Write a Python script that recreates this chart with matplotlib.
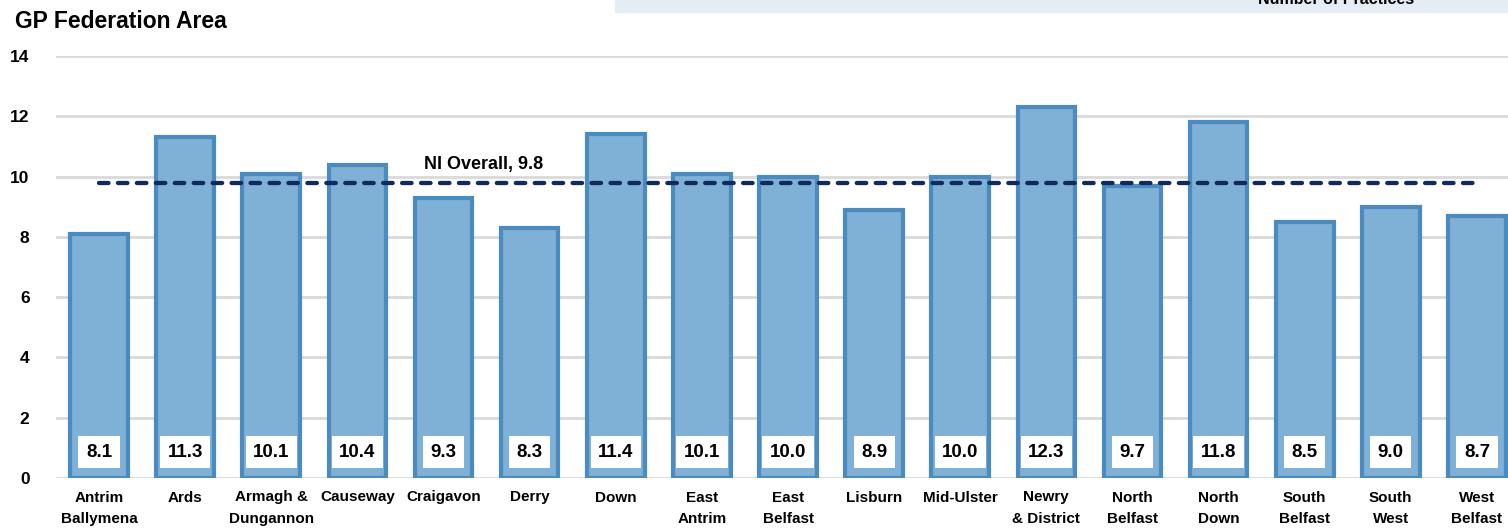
import matplotlib
matplotlib.use('Agg')
import matplotlib.pyplot as plt
from matplotlib.patches import Rectangle

areas = ['Antrim\nBallymena', 'Ards', 'Armagh &\nDungannon', 'Causeway', 'Craigavon',
         'Derry', 'Down', 'East\nAntrim', 'East\nBelfast', 'Lisburn', 'Mid-Ulster',
         'Newry\n& District', 'North\nBelfast', 'North\nDown', 'South\nBelfast',
         'South\nWest', 'West\nBelfast']
values = [8.1, 11.3, 10.1, 10.4, 9.3, 8.3, 11.4, 10.1, 10.0, 8.9, 10.0, 12.3, 9.7, 11.8, 8.5, 9.0, 8.7]
ni_overall = 9.8
y_ticks = [0, 2, 4, 6, 8, 10, 12, 14]

plt.rcParams['font.family'] = ['Liberation Sans', 'DejaVu Sans']
plt.rcParams['font.weight'] = 'bold'

fig = plt.figure(figsize=(15.08, 5.31), dpi=100)
ax = fig.add_axes([56 / 1508, 53 / 531, 1464 / 1508, 422 / 531])

x = range(len(areas))
ax.bar(x, values, width=0.67, color='#7fb0d5', edgecolor='#4a8bc2', linewidth=3, zorder=2)

for i, v in enumerate(values):
    ax.text(i, 0.86, f'{v:.1f}', ha='center', va='center', fontsize=13.5, fontweight='bold',
            color='black', zorder=4,
            bbox=dict(boxstyle='square,pad=0.4', facecolor='white', edgecolor='none'))

ax.hlines(ni_overall, 0, len(areas) - 1, colors='#102a5e', linestyles=(0, (2.2, 2.2)),
          linewidth=3.1, zorder=3, capstyle='round')
ax.text(4.46, 10.4, f'NI Overall, {ni_overall}', ha='center', va='center',
        fontsize=13, fontweight='bold')

ax.set_xlim(-0.5, len(areas) - 0.5)
ax.set_ylim(0, 14)
ax.set_yticks(y_ticks)
ax.set_yticklabels([str(t) for t in y_ticks], fontsize=12.5, fontweight='bold')
ax.set_xticks(list(x))
ax.set_xticklabels(areas, fontsize=11, fontweight='bold', linespacing=1.65)
ax.tick_params(axis='y', length=0, pad=19)
ax.tick_params(axis='x', length=0, pad=9)
ax.yaxis.grid(True, color='#d9d9d9', linewidth=2)
ax.set_axisbelow(True)
for s in ax.spines.values():
    s.set_visible(False)

fig.text(15 / 1508, 1 - 28 / 531, 'GP Federation Area', fontsize=16.5, fontweight='bold',
         ha='left', va='baseline')

fig.patches.append(Rectangle((615 / 1508, 1 - 13 / 531), 1 - 615 / 1508, 13 / 531,
                             transform=fig.transFigure, facecolor='#e4edf6',
                             edgecolor='none', zorder=0))
fig.text(1336 / 1508, 1 - 4 / 531, 'Number of Practices', fontsize=11.5, fontweight='bold',
         ha='center', va='baseline')

fig.savefig('out.png', dpi=100)
